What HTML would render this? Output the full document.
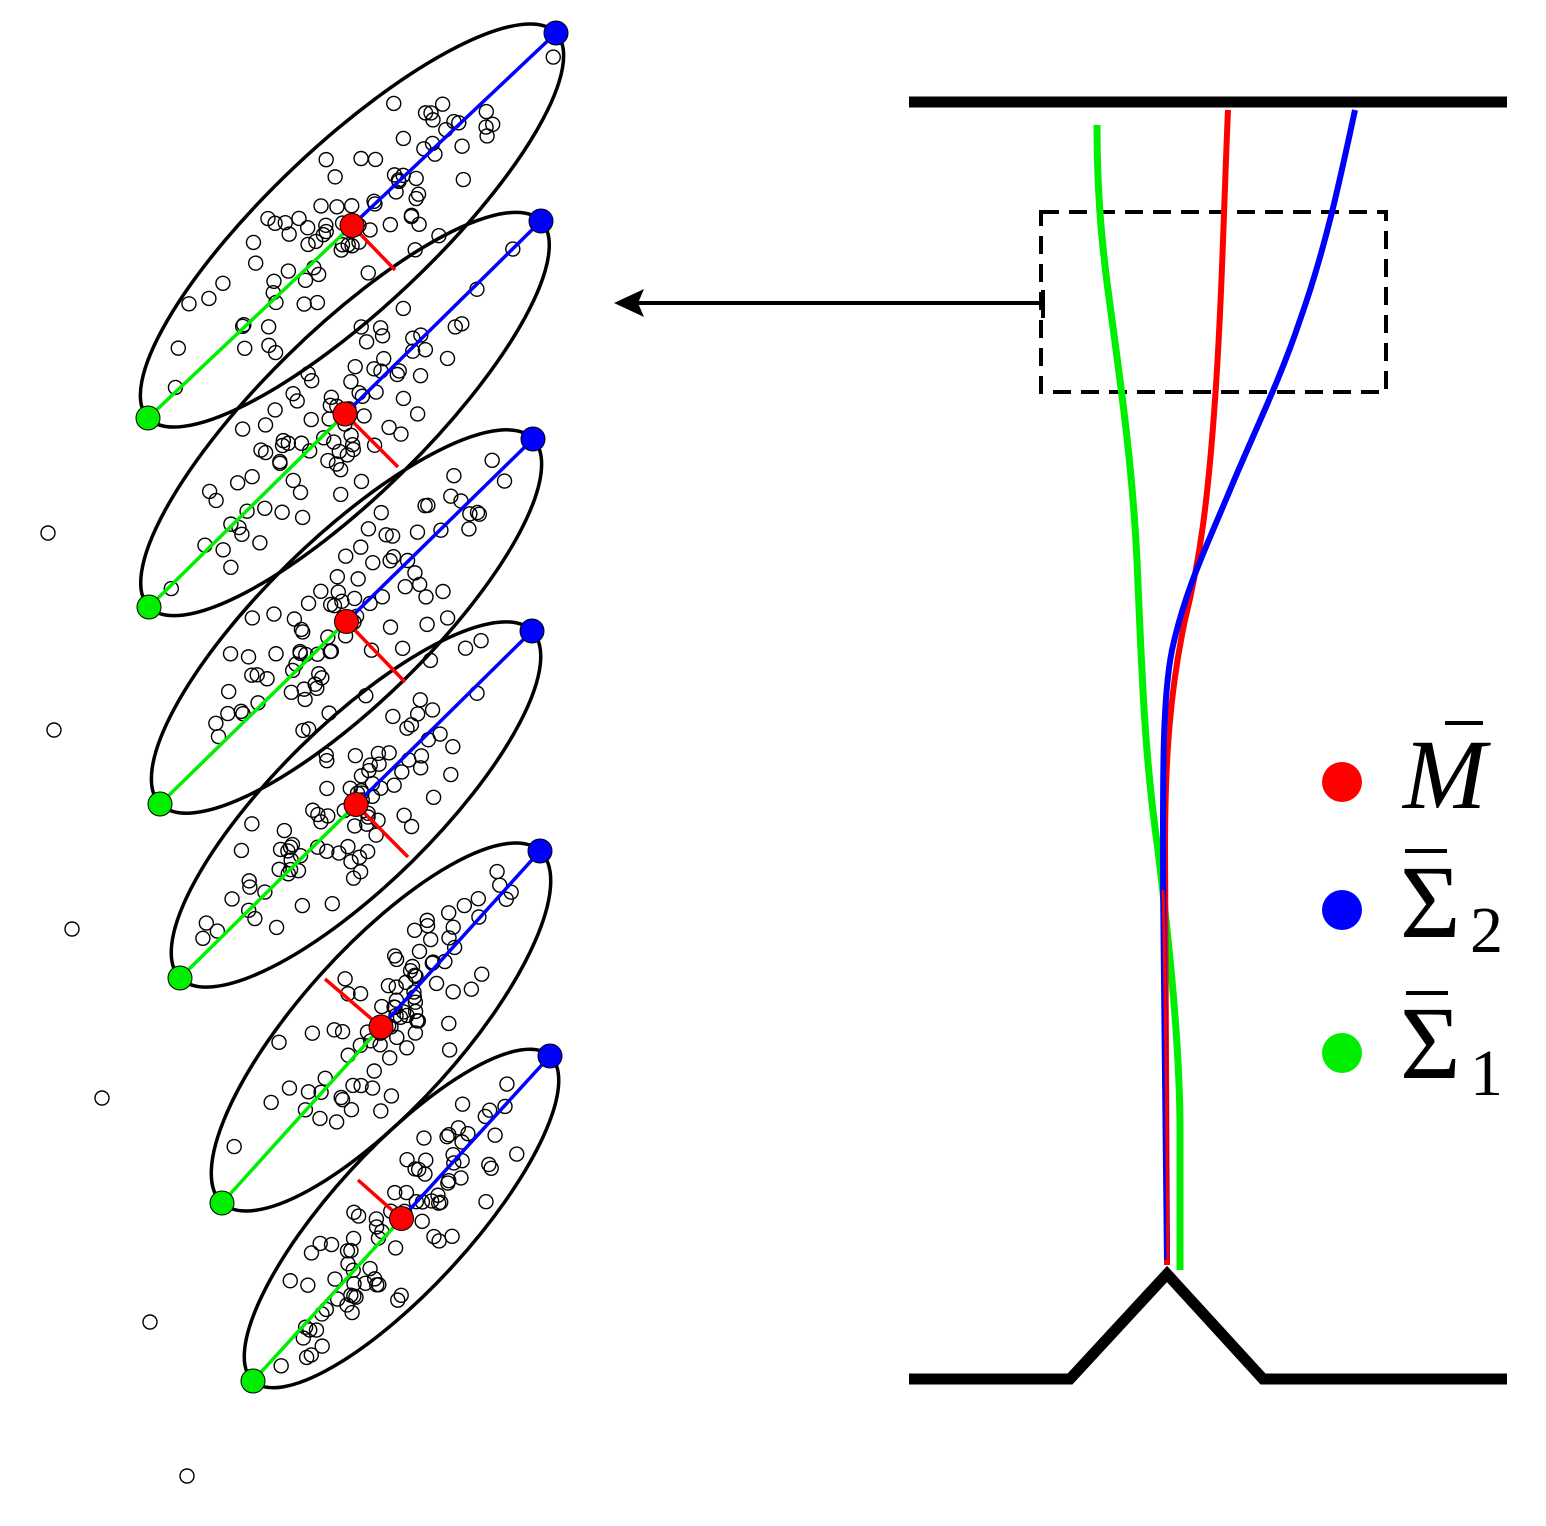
<!DOCTYPE html>
<html><head><meta charset="utf-8"><style>html,body{margin:0;padding:0;background:#fff}</style></head>
<body>
<svg id="s" width="1546" height="1521" viewBox="0 0 1546 1521" xmlns="http://www.w3.org/2000/svg">
<rect width="1546" height="1521" fill="#fff"/>
<g id="pts" fill="none" stroke="#000" stroke-width="1.4"></g>
<g id="ell" fill="none" stroke="#000" stroke-width="3.5"></g>
<g id="ax" stroke-width="3.5"></g>
<g fill="none" stroke="#000" stroke-width="1.4">
<circle cx="48" cy="533" r="7"/><circle cx="54" cy="730" r="7"/><circle cx="72" cy="929" r="7"/>
<circle cx="102" cy="1098" r="7"/><circle cx="150" cy="1322" r="7"/><circle cx="187" cy="1476" r="7"/>
</g>
<line x1="1043" y1="303" x2="635" y2="303" stroke="#000" stroke-width="4"/>
<line x1="1043" y1="290" x2="1043" y2="318" stroke="#000" stroke-width="4"/>
<polygon points="614,303 644,289 638,303 644,317" fill="#000"/>
<line x1="909" y1="102" x2="1507" y2="102" stroke="#000" stroke-width="11"/>
<polyline points="909,1379 1070,1379 1167,1274 1263,1379 1507,1379" fill="none" stroke="#000" stroke-width="11"/>
<rect x="1041" y="212" width="345" height="180" fill="none" stroke="#000" stroke-width="4" stroke-dasharray="18,10"/>
<path d="M1097,125 C1097,180 1100,230 1108,290 C1120,380 1132,460 1137,560 C1142,680 1145,760 1158,850 C1170,950 1180,1050 1180,1130 L1180,1270" fill="none" stroke="#00ee00" stroke-width="7"/>
<path d="M1228,110 C1224,200 1222,300 1215,400 C1208,500 1200,560 1185,620 C1170,690 1165,760 1165,850 C1165,1000 1166,1150 1167,1265" fill="none" stroke="#ff0000" stroke-width="6"/>
<path d="M1355,110 C1340,180 1325,250 1300,320 C1280,380 1255,430 1230,490 C1205,550 1185,590 1172,650 C1162,700 1163,780 1163,880 C1164,1000 1166,1150 1167,1260" fill="none" stroke="#0000ff" stroke-width="6"/>
<path d="M1163,890 C1166,1000 1167,1150 1168,1262" fill="none" stroke="#ff0000" stroke-width="3"/>
<circle cx="1342" cy="782" r="20" fill="#ff0000"/>
<circle cx="1342" cy="910" r="20" fill="#0000ff"/>
<circle cx="1342" cy="1053" r="20" fill="#00ee00"/>
<g font-family="Liberation Serif, serif" fill="#000">
<text x="1403" y="808" font-size="100" font-style="italic">M</text>
<rect x="1445" y="721" width="38" height="4"/>
<text x="1400" y="937" font-size="104">Σ</text>
<rect x="1405" y="849" width="42" height="4"/>
<text x="1470" y="952" font-size="66">2</text>
<text x="1400" y="1078" font-size="104">Σ</text>
<rect x="1406" y="991" width="42" height="4"/>
<text x="1470" y="1095" font-size="66">1</text>
</g>
</svg>
<script>
var E=[[148,418,556,33,395,270,82],[149,607,541,221,398,467,82],[160,804,533,439,405,682,82],[180,978,532,631,408,857,80],[222,1203,540,851,325,979,80],[253,1381,550,1056,358,1180,70]];
var ns="http://www.w3.org/2000/svg";
function el(p,t,a){var e=document.createElementNS(ns,t);for(var k in a)e.setAttribute(k,a[k]);document.getElementById(p).appendChild(e);return e;}
var seed=11;function rnd(){seed=(seed*16807)%2147483647;return seed/2147483647;}
function gauss(){return Math.sqrt(-2*Math.log(rnd()+1e-9))*Math.cos(2*Math.PI*rnd());}
E.forEach(function(d){
 var gx=d[0],gy=d[1],bx=d[2],by=d[3];
 var cx=(gx+bx)/2,cy=(gy+by)/2,dx=bx-gx,dy=by-gy,L=Math.sqrt(dx*dx+dy*dy);
 var ang=Math.atan2(dy,dx)*180/Math.PI,ux=dx/L,uy=dy/L,vx=-uy,vy=ux;
 var n=0;
 while(n<85){var a=gauss()*L*0.2,b=gauss()*d[6]*0.4;
  var q=(a/(L/2-10))*(a/(L/2-10))+(b/(d[6]-10))*(b/(d[6]-10));
  if(q>1)continue;n++;
  el("pts","circle",{cx:cx+a*ux+b*vx,cy:cy+a*uy+b*vy,r:7});}
 el("ell","ellipse",{cx:cx,cy:cy,rx:L/2,ry:d[6],transform:"rotate("+ang+" "+cx+" "+cy+")"});
 el("ax","line",{x1:gx,y1:gy,x2:cx,y2:cy,stroke:"#00ee00"});
 el("ax","line",{x1:cx,y1:cy,x2:bx,y2:by,stroke:"#0000ff"});
 el("ax","line",{x1:cx,y1:cy,x2:d[4],y2:d[5],stroke:"#ff0000"});
 el("ax","circle",{cx:gx,cy:gy,r:12,fill:"#00ee00",stroke:"#000","stroke-width":1});
 el("ax","circle",{cx:bx,cy:by,r:12,fill:"#0000ff",stroke:"#000","stroke-width":1});
 el("ax","circle",{cx:cx,cy:cy,r:12,fill:"#ff0000",stroke:"#000","stroke-width":1});
});
</script>
</body></html>
